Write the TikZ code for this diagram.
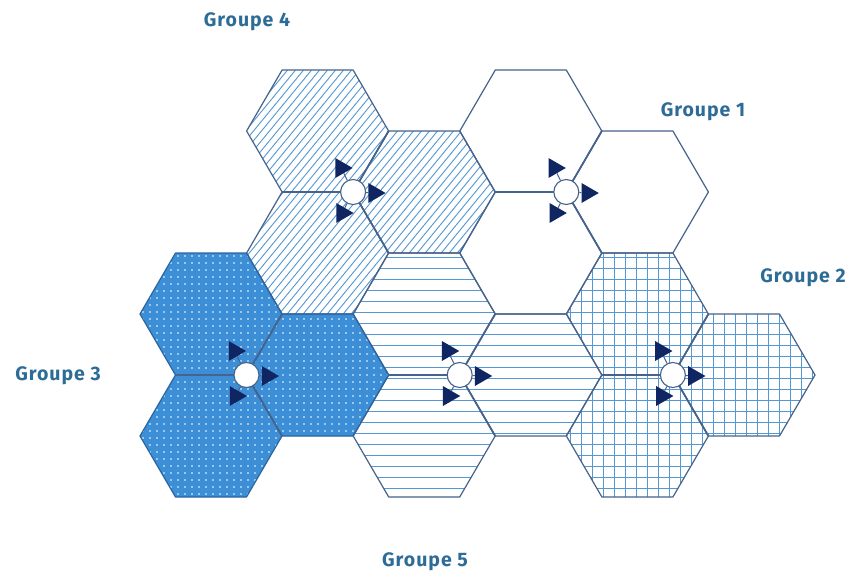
\documentclass[tikz,border=0pt]{standalone}
\usepackage{fontspec}
\setmainfont{Fira Sans}
\newfontfamily\labelfont[LetterSpace=5]{Fira Sans}
\usetikzlibrary{shapes.geometric,calc}

\definecolor{edge}{HTML}{46638C}
\definecolor{hatch}{HTML}{5597D0}
\definecolor{cellblue}{HTML}{3C8FD6}
\definecolor{celledge}{HTML}{2B659F}
\definecolor{navy}{HTML}{0F2662}
\definecolor{label}{HTML}{2E6C98}

% hexagonal cell (flat top) at column #1, row #2 of the staggered grid
\newcommand\hexcell[2]{(211+106.6*#1,131+61*#2) +(-71,0) -- +(-35.5,-61) -- +(35.5,-61) -- +(71,0) -- +(35.5,61) -- +(-35.5,61) -- cycle}

% three-sector base station at a shared cell corner
\newcommand\basestation[2]{%
  \draw[inner] (#2) -- ++(-71,0);
  \draw[inner] (#2) -- ++(35.5,-61);
  \draw[inner] (#2) -- ++(35.5,61);
  \node[bs] (#1) at (#2) {};
  \node[tri] (#1up) at ($(#2)+(-12,-24)$) {};
  \node[tri] (#1right) at ($(#2)+(21,1)$) {};
  \node[tri] (#1down) at ($(#2)+(-11,21)$) {};
  \draw[stub] (#1) -- (#1up);
  \draw[stub] (#1) -- (#1right);
  \draw[stub] (#1) -- (#1down);
}

\begin{document}
\begin{tikzpicture}[x=1pt,y=-1pt,
  cell/.style={draw=edge, line width=1.2pt, line join=round},
  hatchline/.style={draw=hatch, line width=0.9pt},
  inner/.style={draw=edge, line width=1.7pt},
  bs/.style={circle, draw=edge, fill=white, line width=1.1pt, minimum size=25pt, inner sep=0pt},
  tri/.style={regular polygon, regular polygon sides=3, shape border rotate=-90,
              fill=navy, minimum size=23pt, inner sep=0pt},
  stub/.style={draw=edge, line width=1pt},
  grouplabel/.style={text=label, font=\labelfont\bfseries\fontsize{19.5}{23}\selectfont}]

\useasboundingbox (0,0) rectangle (852,576);
\fill[white] (0,0) rectangle (852,576);

% Groupe 4: diagonal hatching
\begin{scope}
  \clip \hexcell{1}{0} \hexcell{2}{1} \hexcell{1}{2};
  \foreach \s in {-30,-22,...,500}
    \draw[hatchline] (\s,330) -- ++(230,-280);
\end{scope}

% Groupe 5: horizontal lines
\begin{scope}
  \clip \hexcell{2}{3} \hexcell{3}{4} \hexcell{2}{5};
  \foreach \y in {257,268,...,500}
    \draw[hatchline] (340,\y) -- (620,\y);
\end{scope}

% Groupe 2: square grid
\begin{scope}
  \clip \hexcell{4}{3} \hexcell{5}{4} \hexcell{4}{5};
  \foreach \y in {257,268,...,500}
    \draw[hatchline] (550,\y) -- (830,\y);
  \foreach \x in {570,581,...,830}
    \draw[hatchline] (\x,245) -- (\x,505);
\end{scope}

% Groupe 3: solid blue with white dots
\begin{scope}
  \clip \hexcell{0}{3} \hexcell{1}{4} \hexcell{0}{5};
  \fill[cellblue] (130,245) rectangle (400,505);
  \foreach \x in {143,150,...,392}
    \foreach \y in {256,263,...,500}
      \fill[white] (\x,\y) circle[radius=0.85pt];
\end{scope}

% cell outlines
\foreach \c/\r in {1/0,2/1,1/2,3/0,4/1,3/2,2/3,3/4,2/5,4/3,5/4,4/5}
  \draw[cell] \hexcell{\c}{\r};
\foreach \c/\r in {0/3,1/4,0/5}
  \draw[cell, draw=celledge] \hexcell{\c}{\r};

% base stations at the shared corners
\coordinate (v4) at (353.1,192);
\coordinate (v1) at (566.3,192);
\coordinate (v3) at (246.5,375);
\coordinate (v5) at (459.7,375);
\coordinate (v2) at (672.9,375);
\basestation{bsA}{v4}
\basestation{bsB}{v1}
\basestation{bsC}{v3}
\basestation{bsD}{v5}
\basestation{bsE}{v2}

% group labels
\node[grouplabel] (g4) at (247,22) {Groupe 4};
\node[grouplabel] (g1) at (703,112) {Groupe 1};
\node[grouplabel] (g2) at (803,278) {Groupe 2};
\node[grouplabel] (g3) at (58,376) {Groupe 3};
\node[grouplabel] (g5) at (425,562) {Groupe 5};
\end{tikzpicture}
\end{document}
